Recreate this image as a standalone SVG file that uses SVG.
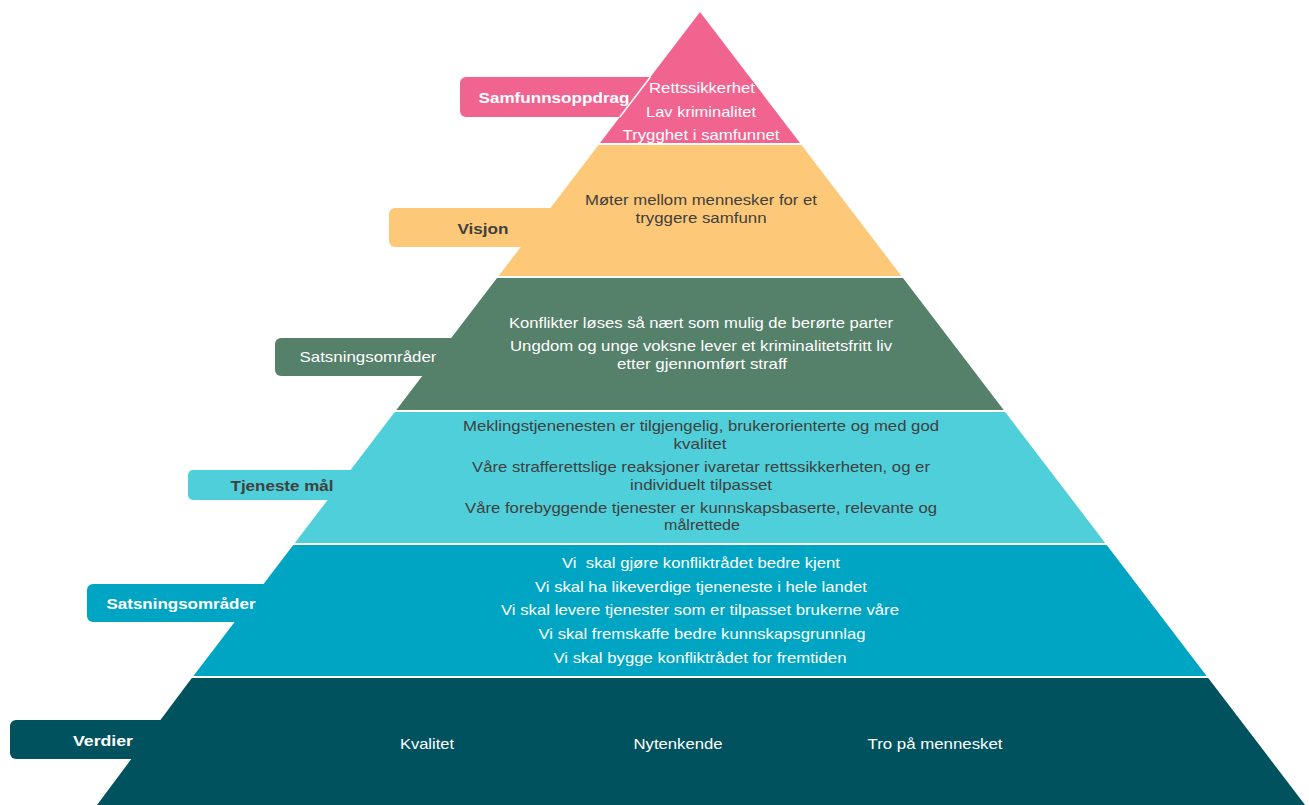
<svg xmlns="http://www.w3.org/2000/svg" width="1309" height="805" viewBox="0 0 1309 805">
<style>
text{font-family:"Liberation Sans",Arial,sans-serif;font-size:15px;text-anchor:middle}
.w{fill:#ffffff}
.d{fill:#404040}
.b{font-weight:bold}
</style>
<rect width="1309" height="805" fill="#ffffff"/>
<g id="samfunnsoppdrag">
<rect x="460" y="77" width="200" height="40" rx="6" fill="#F26490"/>
<polygon points="700,12 800,143 600,143" fill="#F26490"/>
<line x1="650.4" y1="77" x2="619.8" y2="117" stroke="#ffffff" stroke-width="1.5"/>
<text class="w b" x="554" y="103" textLength="151" lengthAdjust="spacingAndGlyphs">Samfunnsoppdrag</text>
<text class="w" x="702" y="93" textLength="106" lengthAdjust="spacingAndGlyphs">Rettssikkerhet</text>
<text class="w" x="701" y="117" textLength="110" lengthAdjust="spacingAndGlyphs">Lav kriminalitet</text>
<text class="w" x="701" y="140" textLength="157" lengthAdjust="spacingAndGlyphs">Trygghet i samfunnet</text>
</g>
<g id="visjon">
<rect x="389" y="208" width="175" height="39" rx="6" fill="#FDC877"/>
<polygon points="598.5,145 801.5,145 901.4,276 498.6,276" fill="#FDC877"/>
<text class="d b" x="483" y="234" textLength="51" lengthAdjust="spacingAndGlyphs">Visjon</text>
<text class="d" x="701" y="205" textLength="232" lengthAdjust="spacingAndGlyphs">Møter mellom mennesker for et</text>
<text class="d" x="701" y="223" textLength="131" lengthAdjust="spacingAndGlyphs">tryggere samfunn</text>
</g>
<g id="satsning-1">
<rect x="275" y="338" width="190" height="38" rx="6" fill="#55806A"/>
<polygon points="497,278 903,278 1003.7,410 396.3,410" fill="#55806A"/>
<text class="w" x="368" y="362" textLength="137" lengthAdjust="spacingAndGlyphs">Satsningsområder</text>
<text class="w" x="701" y="328" textLength="384" lengthAdjust="spacingAndGlyphs">Konflikter løses så nært som mulig de berørte parter</text>
<text class="w" x="701" y="351" textLength="382" lengthAdjust="spacingAndGlyphs">Ungdom og unge voksne lever et kriminalitetsfritt liv</text>
<text class="w" x="702" y="369" textLength="170" lengthAdjust="spacingAndGlyphs">etter gjennomført straff</text>
</g>
<g id="tjenestemal">
<rect x="188" y="470" width="177" height="30" rx="5" fill="#4FCFD9"/>
<polygon points="394.8,412 1005.2,412 1105.2,543 294.8,543" fill="#4FCFD9"/>
<text class="d b" x="282" y="491" textLength="103" lengthAdjust="spacingAndGlyphs">Tjeneste mål</text>
<text class="d" x="701" y="431" textLength="476" lengthAdjust="spacingAndGlyphs">Meklingstjenenesten er tilgjengelig, brukerorienterte og med god</text>
<text class="d" x="700" y="449" textLength="53" lengthAdjust="spacingAndGlyphs">kvalitet</text>
<text class="d" x="701" y="472" textLength="458" lengthAdjust="spacingAndGlyphs">Våre strafferettslige reaksjoner ivaretar rettssikkerheten, og er</text>
<text class="d" x="701" y="490" textLength="142" lengthAdjust="spacingAndGlyphs">individuelt tilpasset</text>
<text class="d" x="701" y="513" textLength="472" lengthAdjust="spacingAndGlyphs">Våre forebyggende tjenester er kunnskapsbaserte, relevante og</text>
<text class="d" x="702" y="530" textLength="76" lengthAdjust="spacingAndGlyphs">målrettede</text>
</g>
<g id="satsning-2">
<rect x="87" y="584" width="190" height="38" rx="6" fill="#00A5C4"/>
<polygon points="293.3,545 1106.7,545 1206.6,676 193.4,676" fill="#00A5C4"/>
<text class="w b" x="181" y="609" textLength="149" lengthAdjust="spacingAndGlyphs">Satsningsområder</text>
<text class="w" x="701" y="568" textLength="278" lengthAdjust="spacingAndGlyphs">Vi&#160; skal gjøre konfliktrådet bedre kjent</text>
<text class="w" x="701" y="592" textLength="332" lengthAdjust="spacingAndGlyphs">Vi skal ha likeverdige tjeneneste i hele landet</text>
<text class="w" x="700" y="615" textLength="398" lengthAdjust="spacingAndGlyphs">Vi skal levere tjenester som er tilpasset brukerne våre</text>
<text class="w" x="702" y="639" textLength="327" lengthAdjust="spacingAndGlyphs">Vi skal fremskaffe bedre kunnskapsgrunnlag</text>
<text class="w" x="700" y="663" textLength="293" lengthAdjust="spacingAndGlyphs">Vi skal bygge konfliktrådet for fremtiden</text>
</g>
<g id="verdier">
<rect x="10" y="720" width="165" height="39" rx="6" fill="#00525F"/>
<polygon points="191.8,678 1208.2,678 1305.1,805 97,805" fill="#00525F"/>
<text class="w b" x="103" y="746" textLength="60" lengthAdjust="spacingAndGlyphs">Verdier</text>
<text class="w" x="427" y="749" textLength="54" lengthAdjust="spacingAndGlyphs">Kvalitet</text>
<text class="w" x="678" y="749" textLength="89" lengthAdjust="spacingAndGlyphs">Nytenkende</text>
<text class="w" x="935" y="749" textLength="135" lengthAdjust="spacingAndGlyphs">Tro på mennesket</text>
</g>
</svg>
